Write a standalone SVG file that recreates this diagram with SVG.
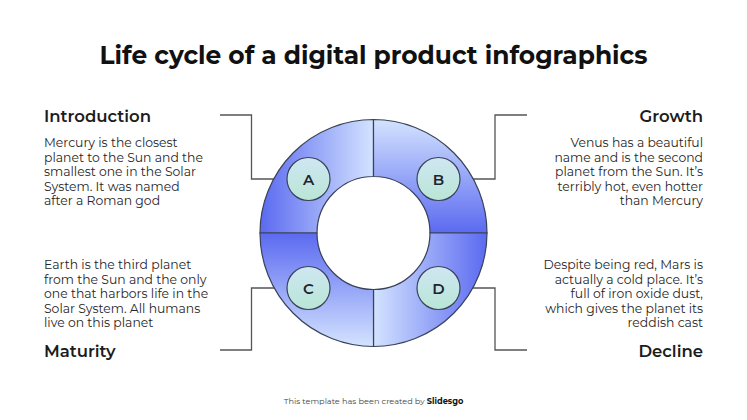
<svg xmlns="http://www.w3.org/2000/svg" width="747" height="420" viewBox="0 0 747 420">
<defs>
<linearGradient id="gA" gradientUnits="userSpaceOnUse" x1="260" y1="0" x2="373.5" y2="0"><stop offset="0" stop-color="#5b6af0"/><stop offset="1" stop-color="#d3e3ff"/></linearGradient>
<linearGradient id="gB" gradientUnits="userSpaceOnUse" x1="0" y1="119.5" x2="0" y2="233"><stop offset="0" stop-color="#d3e3ff"/><stop offset="1" stop-color="#5b6af0"/></linearGradient>
<linearGradient id="gD" gradientUnits="userSpaceOnUse" x1="373.5" y1="0" x2="487" y2="0"><stop offset="0" stop-color="#d3e3ff"/><stop offset="1" stop-color="#5b6af0"/></linearGradient>
<linearGradient id="gC" gradientUnits="userSpaceOnUse" x1="0" y1="233" x2="0" y2="346.5"><stop offset="0" stop-color="#5b6af0"/><stop offset="1" stop-color="#d3e3ff"/></linearGradient>
<linearGradient id="gS" x1="0" y1="0" x2="0" y2="1"><stop offset="0" stop-color="#cfe6f2"/><stop offset="1" stop-color="#b9e6d6"/></linearGradient>
</defs>
<style>
.seg{stroke:#3a4258;stroke-width:1.2}
.sc{fill:url(#gS);stroke:#3a4258;stroke-width:1.2}
.lt{font-family:"Montserrat","Open Sans","Liberation Sans",sans-serif;font-size:15px;font-weight:600;fill:#1f2430;text-anchor:middle}
.con{fill:none;stroke:#555;stroke-width:1.3}
.h{font-family:"Montserrat","Open Sans","Liberation Sans",sans-serif;font-size:16.5px;font-weight:600;fill:#1c1c1c}
.b{font-family:"Montserrat","Open Sans","Liberation Sans",sans-serif;font-size:12.4px;fill:#262626}
.r{text-anchor:end}
.title{font-family:"Montserrat","Open Sans","Liberation Sans",sans-serif;font-size:24.9px;font-weight:700;fill:#111;text-anchor:middle}
.foot{font-family:"Montserrat","Open Sans","Liberation Sans",sans-serif;font-size:8.2px;fill:#444;text-anchor:middle}
</style>
<rect width="747" height="420" fill="#fff"/>
<text class="title" x="373.5" y="64">Life cycle of a digital product infographics</text>
<g id="connectors">
<polyline class="con" points="220,115 251.5,115 251.5,179 290,179"/>
<polyline class="con" points="527,115 495,115 495,179 458,179"/>
<polyline class="con" points="220,350 251.5,350 251.5,288 290,288"/>
<polyline class="con" points="527,350 495,350 495,288 458,288"/>
</g>
<g id="ring">
<path class="seg" fill="url(#gA)" d="M260,233 A113.5,113.5 0 0 1 373.5,119.5 L373.5,176.5 A56.5,56.5 0 0 0 317,233 Z"/>
<path class="seg" fill="url(#gB)" d="M373.5,119.5 A113.5,113.5 0 0 1 487,233 L430,233 A56.5,56.5 0 0 0 373.5,176.5 Z"/>
<path class="seg" fill="url(#gD)" d="M487,233 A113.5,113.5 0 0 1 373.5,346.5 L373.5,289.5 A56.5,56.5 0 0 0 430,233 Z"/>
<path class="seg" fill="url(#gC)" d="M373.5,346.5 A113.5,113.5 0 0 1 260,233 L317,233 A56.5,56.5 0 0 0 373.5,289.5 Z"/>
</g>
<g id="nodeA"><circle class="sc" cx="308.5" cy="179" r="21.5"/><text class="lt" x="308.5" y="184.5">A</text></g>
<g id="nodeB"><circle class="sc" cx="438.5" cy="179" r="21.5"/><text class="lt" x="438.5" y="184.5">B</text></g>
<g id="nodeC"><circle class="sc" cx="308.5" cy="288" r="21.5"/><text class="lt" x="308.5" y="293.5">C</text></g>
<g id="nodeD"><circle class="sc" cx="438.5" cy="288" r="21.5"/><text class="lt" x="438.5" y="293.5">D</text></g>
<g id="intro">
<text class="h" x="44" y="122">Introduction</text>
<text class="b" x="44" y="147">Mercury is the closest</text>
<text class="b" x="44" y="161.5">planet to the Sun and the</text>
<text class="b" x="44" y="176">smallest one in the Solar</text>
<text class="b" x="44" y="190.5">System. It was named</text>
<text class="b" x="44" y="205">after a Roman god</text>
</g>
<g id="growth">
<text class="h r" x="703" y="122">Growth</text>
<text class="b r" x="703" y="147">Venus has a beautiful</text>
<text class="b r" x="703" y="161.5">name and is the second</text>
<text class="b r" x="703" y="176">planet from the Sun. It’s</text>
<text class="b r" x="703" y="190.5">terribly hot, even hotter</text>
<text class="b r" x="703" y="205">than Mercury</text>
</g>
<g id="maturity">
<text class="b" x="44" y="269">Earth is the third planet</text>
<text class="b" x="44" y="283.5">from the Sun and the only</text>
<text class="b" x="44" y="298">one that harbors life in the</text>
<text class="b" x="44" y="312.5">Solar System. All humans</text>
<text class="b" x="44" y="327">live on this planet</text>
<text class="h" x="44" y="357">Maturity</text>
</g>
<g id="decline">
<text class="b r" x="703" y="269">Despite being red, Mars is</text>
<text class="b r" x="703" y="283.5">actually a cold place. It’s</text>
<text class="b r" x="703" y="298">full of iron oxide dust,</text>
<text class="b r" x="703" y="312.5">which gives the planet its</text>
<text class="b r" x="703" y="327">reddish cast</text>
<text class="h r" x="703" y="357">Decline</text>
</g>
<text class="foot" x="373.5" y="404">This template has been created by <tspan font-weight="700" fill="#111">Slidesgo</tspan></text>
</svg>
